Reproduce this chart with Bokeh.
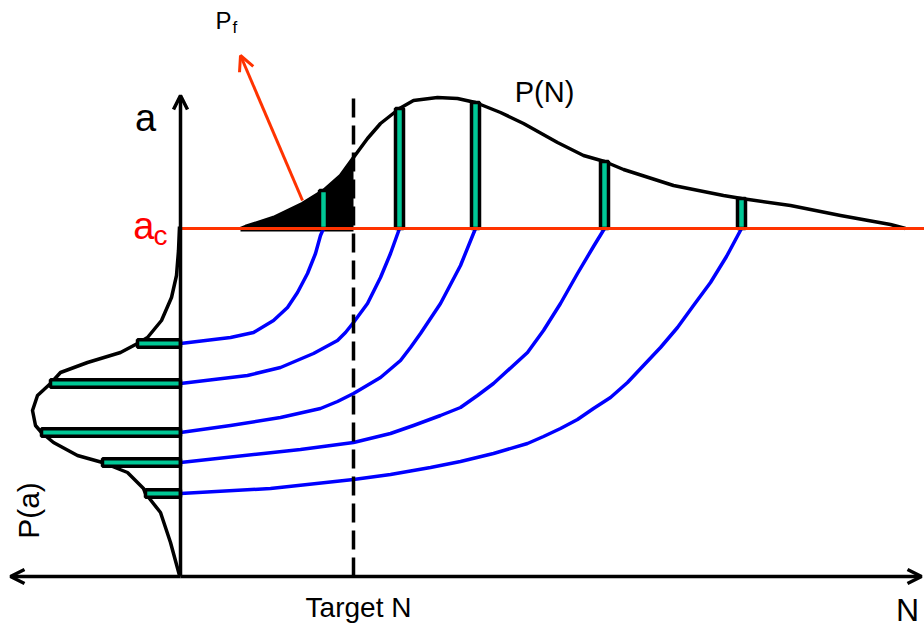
import numpy as np
from bokeh.plotting import figure
from bokeh.models import Range1d, Arrow, OpenHead, Label
from bokeh.embed import file_html
from bokeh.resources import INLINE

# ---------------------------------------------------------------
# Probabilistic fatigue-life sketch: initial flaw distribution P(a),
# crack growth curves a(N) up to the critical size a_c, and the
# resulting life distribution P(N) with the failure probability P_f
# at the target life.
# ---------------------------------------------------------------

# Critical crack size and target life (same units as the axes)
a_crit = 348
target_N = 173

# Initial flaw sizes and their density P(a)
a0 = [233, 193, 144, 114, 83]
p_a0 = [43, 130, 139, 78, 35]

# Life at which each flaw reaches a_c, and density P(N) there
N_fail = [143, 219, 295, 424, 561]
p_N_fail = [38, 120, 126, 67, 30]

# Density curve P(a): density value and crack size
pa_p = [1, 2, 4, 9, 19, 33, 43, 60, 93, 120, 130, 143, 148, 145, 139,
        127, 103, 78, 53, 37, 35, 20, 10, 1]
pa_a = [350, 326, 301, 279, 256, 239, 233, 224, 214, 204, 193, 181, 166,
        151, 144, 134, 121, 114, 104, 88, 83, 64, 34, 1]

# Density curve P(N): life and density value
pn_N = [60, 65, 93, 122, 143, 160, 173, 187, 200, 219, 233, 257, 277, 295,
        310, 320, 343, 377, 403, 424, 443, 493, 543, 561, 610, 660, 710, 725]
pn_p = [0, 2, 11, 25, 38, 53, 71, 90, 105, 120, 128, 131, 130, 126,
        120, 116, 105, 86, 73, 67, 59, 43, 33, 30, 23, 13, 4, 0]

# Crack growth curves a(N), one per initial flaw
growth_N = [
    [0, 50, 73, 93, 107, 117, 127, 135, 140, 143],
    [0, 67, 100, 133, 157, 165, 173, 187, 200, 210, 219],
    [0, 50, 100, 140, 157, 173, 200, 220, 230, 240, 260, 280, 295],
    [0, 83, 120, 173, 210, 233, 260, 280, 297, 313, 347, 363, 380, 397,
     413, 424],
    [0, 90, 173, 210, 250, 280, 313, 347, 363, 380, 397, 413, 430, 447,
     463, 480, 497, 513, 530, 546, 561],
]
growth_a = [
    [233, 239, 244, 256, 269, 284, 303, 323, 341, 348],
    [193, 201, 209, 223, 236, 244, 254, 273, 299, 323, 348],
    [144, 151, 159, 168, 175, 183, 199, 216, 229, 243, 273, 311, 348],
    [114, 123, 127, 134, 143, 151, 161, 169, 181, 193, 224, 246, 273, 303,
     330, 348],
    [83, 88, 97, 102, 109, 115, 123, 133, 140, 148, 157, 168, 179, 194,
     211, 229, 249, 271, 294, 320, 348],
]

GREEN = "#00C896"
ORANGE_RED = "#FF3300"
FONT = "Liberation Sans"
LW = 3.5

p = figure(width=924, height=626,
           x_range=Range1d(-180, 744), y_range=Range1d(-50, 576),
           output_backend="svg", toolbar_location=None,
           x_axis_location=None, y_axis_location=None, min_border=0)
p.grid.visible = False
p.outline_line_color = None
p.background_fill_color = "white"
p.border_fill_color = "white"

# Failure probability: area under P(N) left of the target life
fill_N = [n for n in pn_N if n <= target_N]
fill_p = [v for n, v in zip(pn_N, pn_p) if n <= target_N]
p.varea(x=fill_N, y1=[a_crit - 3] * len(fill_N),
        y2=[a_crit + v for v in fill_p], fill_color="black")

# P(N) and P(a) density curves
p.line(pn_N, [a_crit + v for v in pn_p], line_color="black", line_width=LW,
       line_join="round")
p.line([-v for v in pa_p], pa_a, line_color="black", line_width=LW,
       line_join="round")

# Crack growth curves
for gn, ga in zip(growth_N, growth_a):
    p.line(gn, ga, line_color="#0000FF", line_width=LW, line_join="round")

# Density bars
p.vbar(x=N_fail, bottom=a_crit, top=[a_crit + v for v in p_N_fail],
       width=8, fill_color=GREEN, line_color="black", line_width=LW)
p.hbar(y=a0, left=[-v for v in p_a0], right=0, height=7.5,
       fill_color=GREEN, line_color="black", line_width=LW)

# Critical crack size
p.line([0, 744], [a_crit, a_crit], line_color=ORANGE_RED, line_width=3)

# Axes with open arrowheads
for xe, ye in [(0, 481), (-170, 0), (741, 0)]:
    p.add_layout(Arrow(end=OpenHead(size=14, line_width=LW, line_color="black"),
                       x_start=0, y_start=0, x_end=xe, y_end=ye,
                       line_color="black", line_width=LW))

# Target life
p.line([target_N, target_N], [0, 482], line_color="black", line_width=LW,
       line_dash="19 8")

# Pointer to the failure probability
p.add_layout(Arrow(end=OpenHead(size=15, line_width=3, line_color=ORANGE_RED),
                   x_start=122, y_start=376, x_end=60, y_end=521,
                   line_color=ORANGE_RED, line_width=3))


def label(x, y, text, size, color="black", align="left", angle=0.0):
    p.add_layout(Label(x=x, y=y, text=text, text_font=FONT,
                       text_font_size=f"{size}px", text_color=color,
                       text_align=align, text_baseline="alphabetic",
                       angle=angle))


label(-35, 459, "a", 38, align="center")
label(-26, 351, "a", 38, color="#FF0000", align="right")
label(-27, 341, "c", 28, color="#FF0000")
label(35, 556, "P", 24)
label(52, 549, "f", 17)
label(364, 485, "P(N)", 29, align="center")
label(-152, 66, "P(a)", 30, align="center", angle=np.pi / 2)
label(178, -31, "Target N", 28, align="center")
label(727, -33, "N", 32, align="center")

open("out.html", "w").write(file_html(p, INLINE))
